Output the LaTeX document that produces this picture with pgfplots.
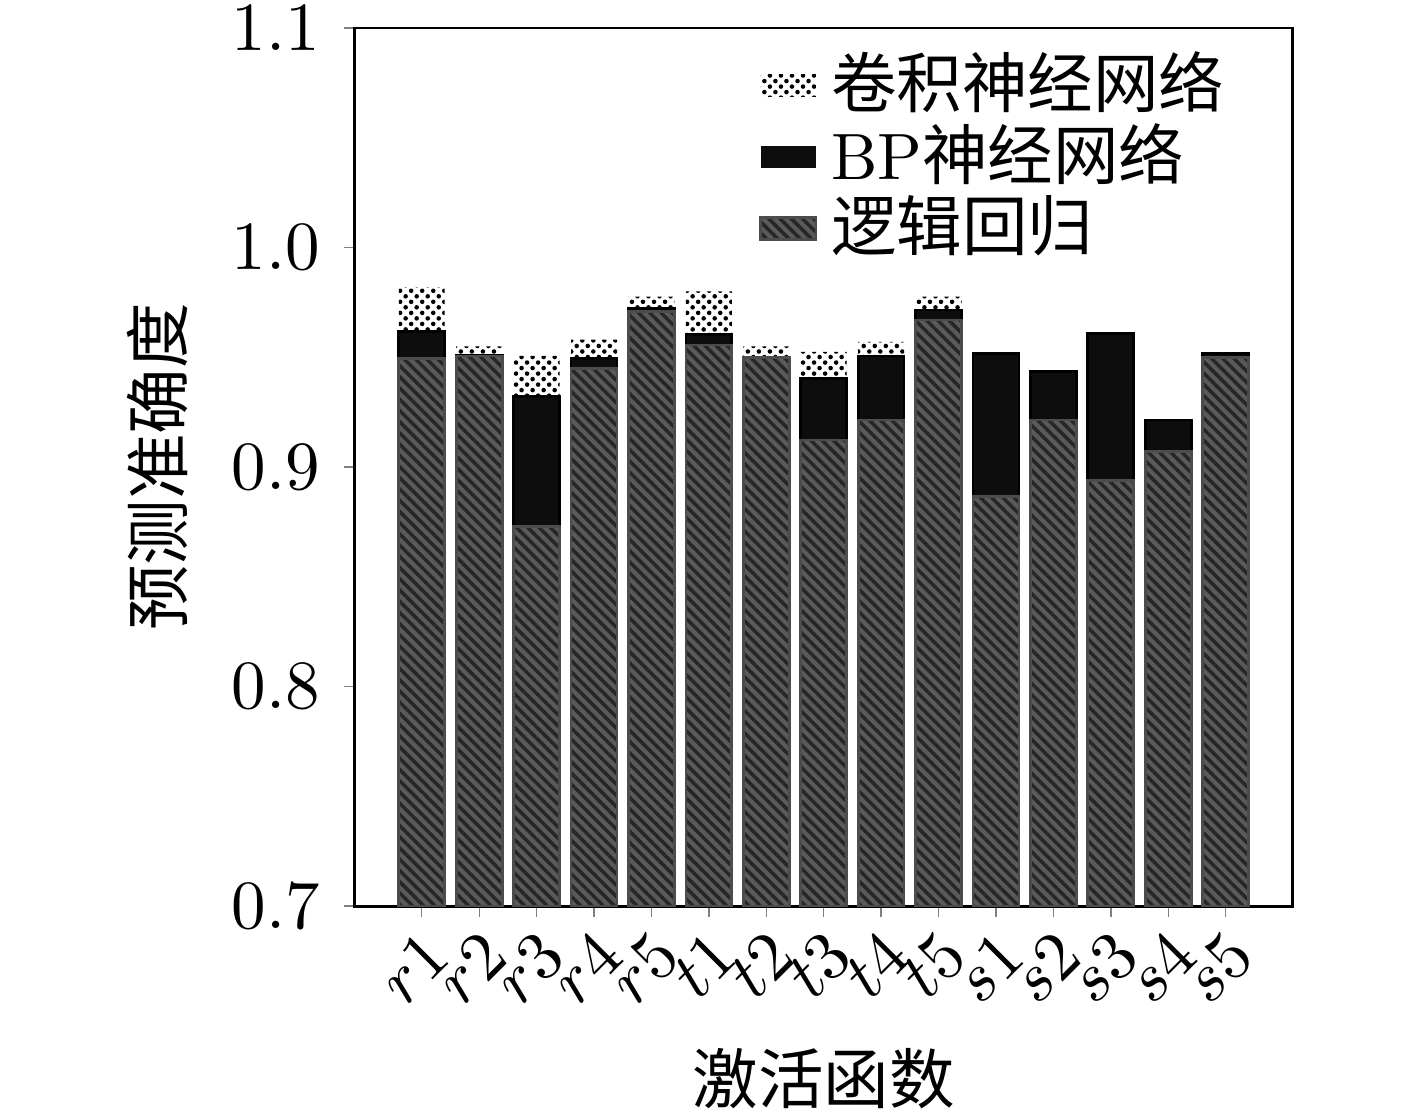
\documentclass[border=0pt]{standalone}
\usepackage{pgfplots}
\pgfplotsset{compat=1.18}
\usepackage{fontspec}
\newfontfamily\cjk{Noto Sans CJK SC}
\usetikzlibrary{patterns,patterns.meta}
\definecolor{lrgray}{HTML}{5A5A5A}
\pgfdeclarepatternformonly{finedots}{\pgfqpoint{-0.5pt}{-0.5pt}}{\pgfqpoint{2.1pt}{2.1pt}}{\pgfqpoint{1.6pt}{1.6pt}}{%
  \pgfpathcircle{\pgfqpoint{0.4pt}{0.4pt}}{0.33pt}
  \pgfpathcircle{\pgfqpoint{1.2pt}{1.2pt}}{0.33pt}
  \pgfusepath{fill}}
\begin{document}
\begin{tikzpicture}
\begin{axis}[
  name=ax,
  scale only axis,
  width=136pt, height=127.3pt,
  ymin=0.7, ymax=1.1,
  xmin=-1.17, xmax=15.17,
  ytick={0.7,0.8,0.9,1.0,1.1},
  yticklabel style={/pgf/number format/.cd,fixed,fixed zerofill,precision=1},
  xtick={0,...,14},
  xticklabels={$r1$,$r2$,$r3$,$r4$,$r5$,$t1$,$t2$,$t3$,$t4$,$t5$,$s1$,$s2$,$s3$,$s4$,$s5$},
  xticklabel style={rotate=45,anchor=north east,inner sep=1pt},
  xtick pos=bottom, ytick pos=left,
  tick align=outside,
  major tick length=1.5pt,
  xlabel={\cjk 激活函数},
  ylabel={\cjk 预测准确度},
  xlabel style={font=\fontsize{9.5}{11}\selectfont, yshift=-1pt},
  ylabel style={font=\fontsize{9.5}{11}\selectfont, yshift=-0.5pt},
  ybar, bar width=0.8, bar shift=0pt,
  legend style={at={(0.43,0.99)},anchor=north west,draw=none,fill=none,
    font=\fontsize{9.5}{11}\selectfont,row sep=-3.2pt,inner sep=0pt},
  legend cell align=left,
  legend image code/.code={\path[#1,draw=none] (0pt,-1.6pt) rectangle (8pt,1.6pt);},
]
% CNN
\addplot[draw=none, pattern=finedots, pattern color=black] coordinates {
(0,0.982) (1,0.955) (2,0.9506) (3,0.958) (4,0.9776) (5,0.980) (6,0.955)
(7,0.9525) (8,0.957) (9,0.9776) (10,0.950) (11,0.942) (12,0.960) (13,0.920) (14,0.951)};
\addlegendentry{\cjk 卷积神经网络}
% BP
\addplot[draw=black, fill=black!95] coordinates {
(0,0.9616) (1,0.951) (2,0.932) (3,0.9495) (4,0.9723) (5,0.9604) (6,0.950)
(7,0.9404) (8,0.9506) (9,0.9715) (10,0.9518) (11,0.9437) (12,0.9609) (13,0.9214) (14,0.9518)};
\addlegendentry{BP\cjk 神经网络}
% LR
\addplot[draw=black!70, fill=lrgray, postaction={pattern={Lines[angle=-45,distance=1.15pt,line width=0.5pt]},pattern color=black!85}] coordinates {
(0,0.9495) (1,0.9506) (2,0.8728) (3,0.945) (4,0.9708) (5,0.9556) (6,0.950)
(7,0.9123) (8,0.9214) (9,0.967) (10,0.8865) (11,0.9214) (12,0.894) (13,0.907) (14,0.950)};
\addlegendentry{\cjk 逻辑回归}
\end{axis}
\pgfresetboundingbox
\path ([shift={(-51.4pt,-29.6pt)}]ax.south west) rectangle ([shift={(18pt,4.06pt)}]ax.north east);
\end{tikzpicture}
\end{document}
